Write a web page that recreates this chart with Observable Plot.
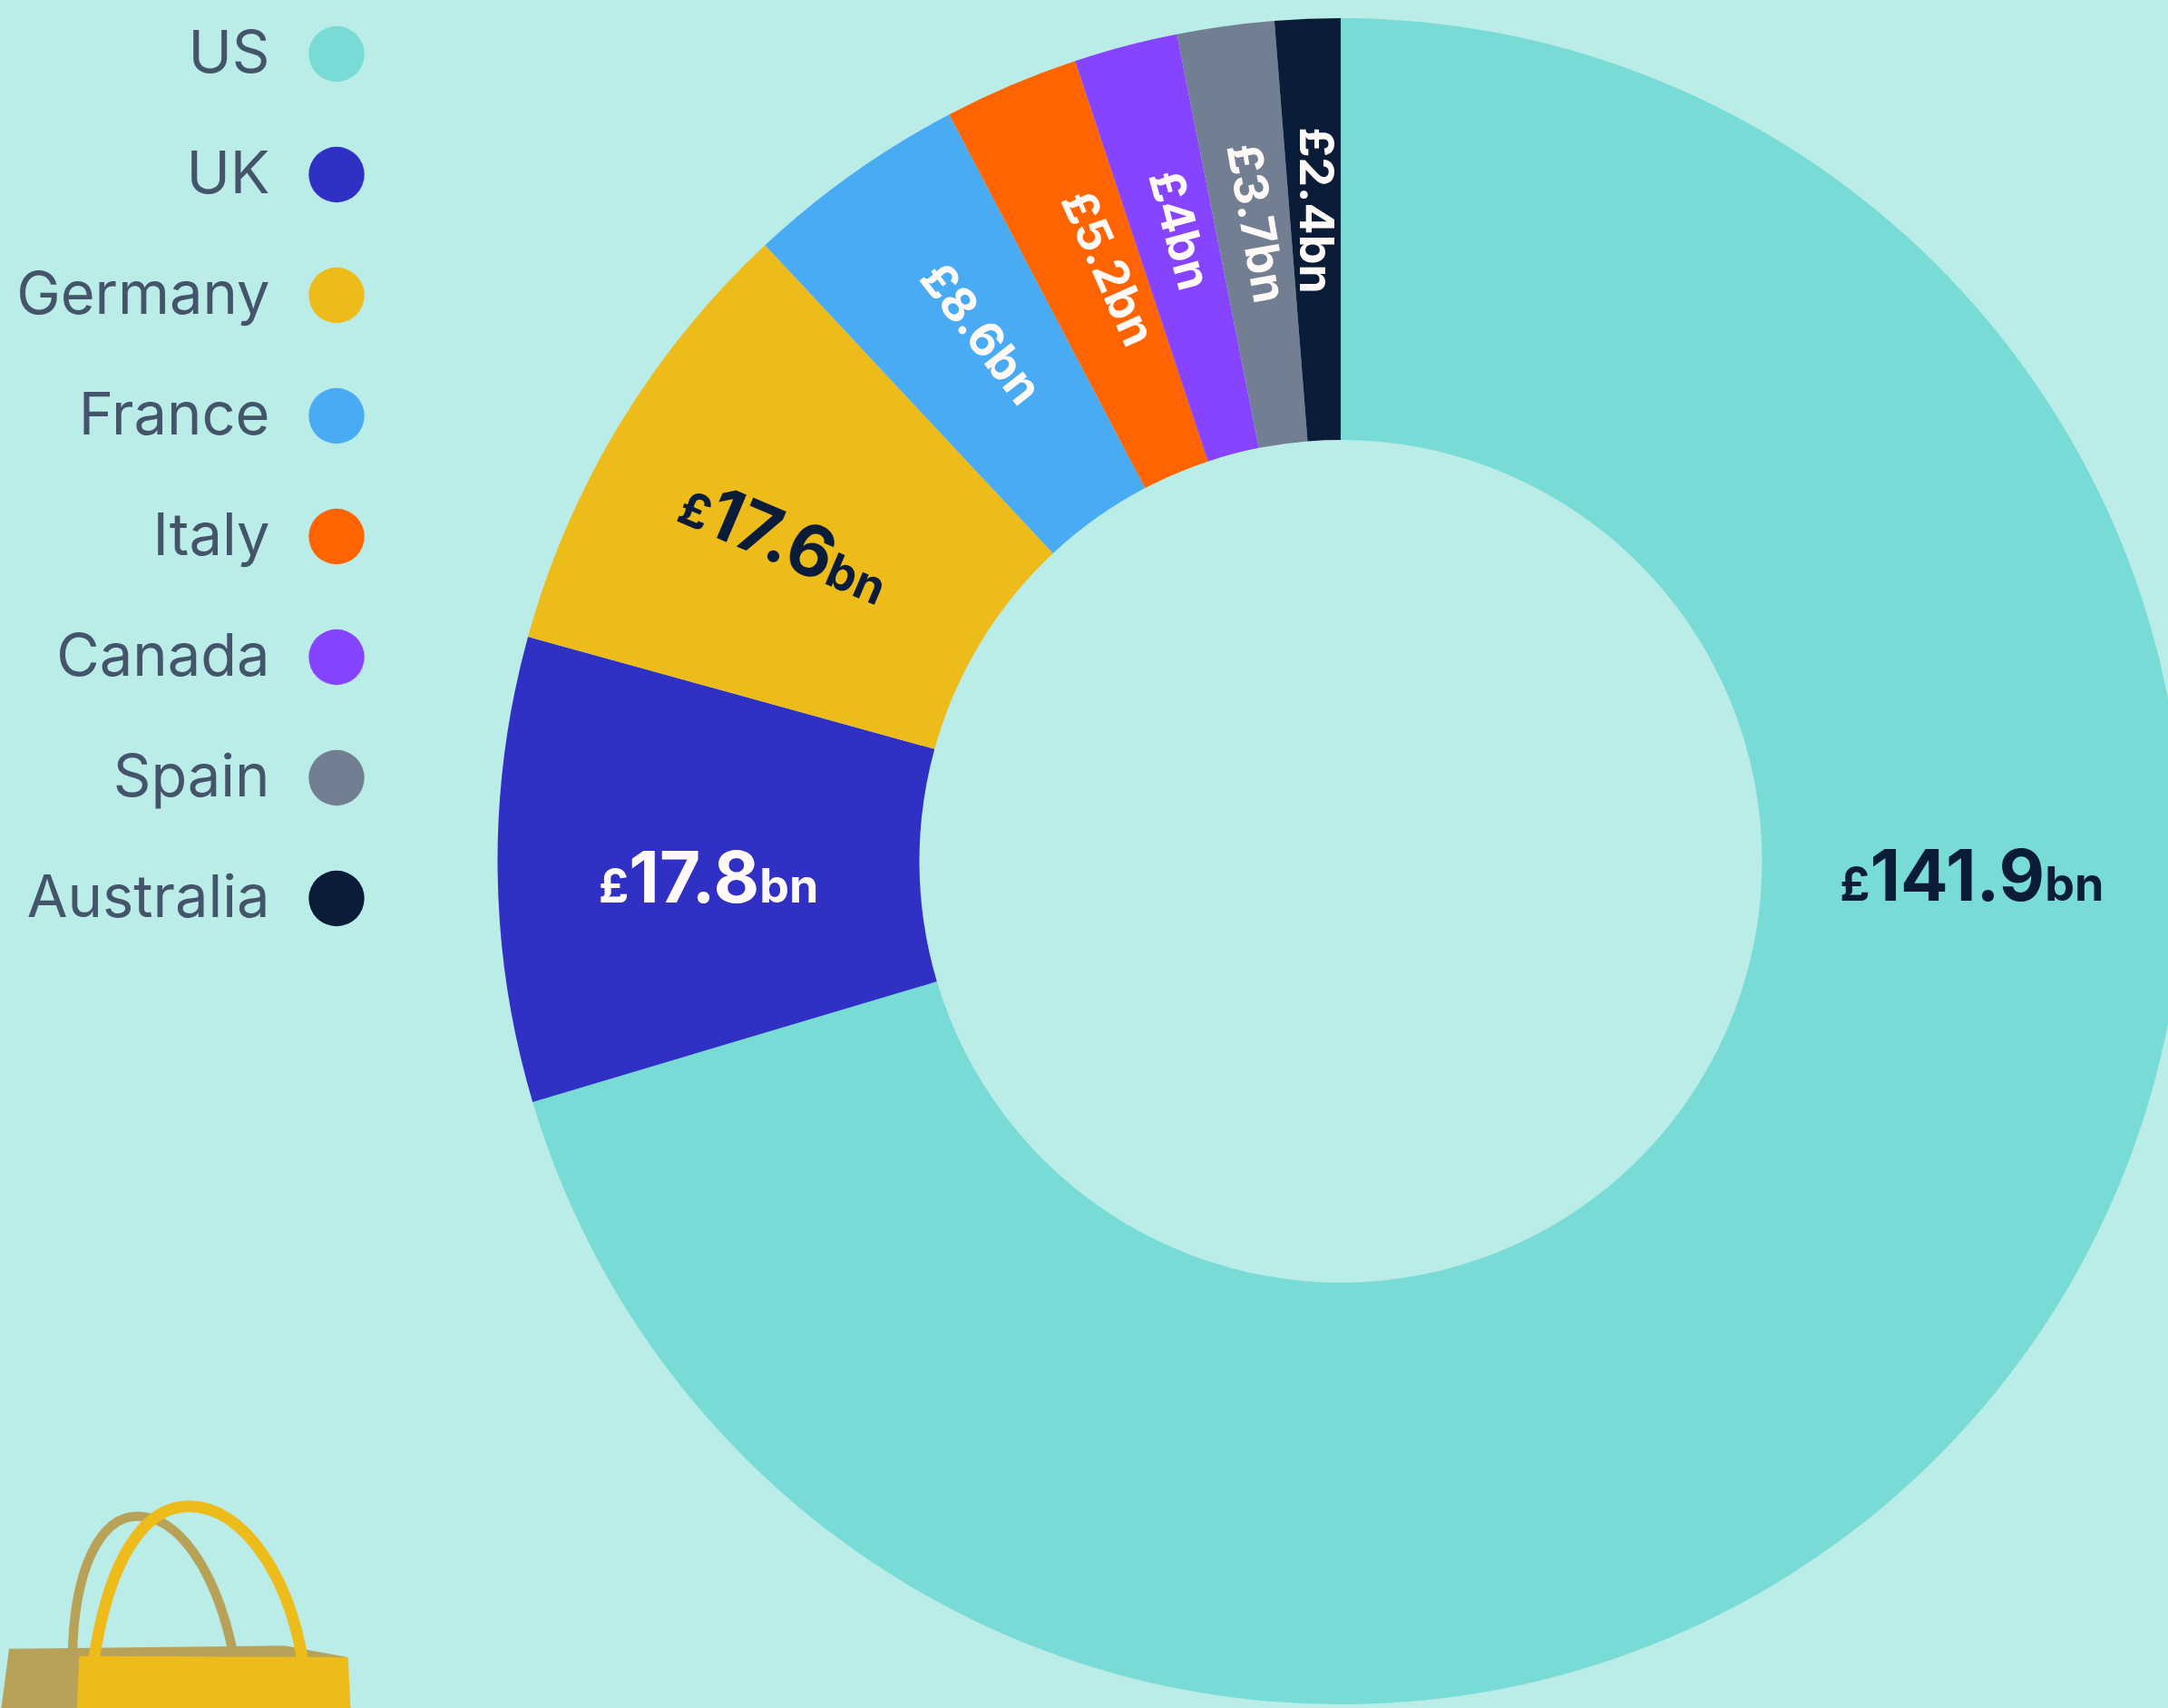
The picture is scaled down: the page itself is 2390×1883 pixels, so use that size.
<!DOCTYPE html>
<html>
<head>
<meta charset="utf-8">
<script src="https://cdn.jsdelivr.net/npm/d3@7"></script>
<script src="https://cdn.jsdelivr.net/npm/@observablehq/plot@0.6"></script>
<style>
  html, body { margin: 0; padding: 0; background: #baece8; overflow: hidden; width: 2390px; height: 1883px; }
  svg { display: block; }
  text { font-optical-sizing: none; }
</style>
</head>
<body>
<div id="chart"></div>
<script>
// Data
const countries = ["US", "UK", "Germany", "France", "Italy", "Canada", "Spain", "Australia"];
const valuesBn = [141.9, 17.8, 17.6, 8.6, 5.2, 4, 3.7, 2.4];        // as printed on the labels
const sliceSizes = [141.6, 17.9, 17.6, 8.6, 5.2, 4.0, 3.74, 2.52];
const colors = ["#78dbd5", "#3030c4", "#edbc1a", "#48abf3", "#ff6400", "#8644ff", "#727e91", "#0b1c39"];

// Label layout
const labelAngles = [91.3, 268.56, 300.1, 325.8, 338.67, 345.76, 352.56, 357.93];
const labelRadii = [696, 697, 707, 704, 702, 718, 709.5, 718];
const labelRotations = [0, 0, 23, 52, 66, 75, 80, 90];
const labelBig = [78, 78, 78, 52, 52, 52, 52, 52];
const labelSmall = [52, 52, 52, 52, 52, 52, 52, 52];
const labelInk = ["#0b1c39", "#fffaf8", "#0b1c39", "#fffaf8", "#fffaf8", "#fffaf8", "#fffaf8", "#fffaf8"];

const W = 2390, H = 1883;
const cx = 1478, cy = 949.5, outerR = 929.5, innerR = 464.5;
const total = d3.sum(sliceSizes);

let run = 0;
const slices = countries.map((country, i) => {
  const start = run;
  run += sliceSizes[i];
  return { country, start, end: run };
});
const labels = countries.map((country, i) => ({
  country,
  value: valuesBn[i],
  at: (labelAngles[i] / 360) * total,
  radius: labelRadii[i],
  rotate: labelRotations[i],
  big: labelBig[i],
  small: labelSmall[i],
  ink: labelInk[i]
}));

const NS = "http://www.w3.org/2000/svg";
const arc = d3.arc();

function renderDonut(index, scales, values) {
  const g = document.createElementNS(NS, "g");
  for (const i of index) {
    const p = document.createElementNS(NS, "path");
    p.setAttribute("d", arc({ innerRadius: innerR, outerRadius: outerR, startAngle: values.x1[i], endAngle: values.x2[i] }));
    p.setAttribute("transform", `translate(${cx},${cy})`);
    p.setAttribute("fill", values.fill[i]);
    g.appendChild(p);
  }
  return g;
}

function renderLabels(index, scales, values) {
  const g = document.createElementNS(NS, "g");
  for (const i of index) {
    const d = labels[i];
    const a = values.x[i];
    const x = cx + d.radius * Math.sin(a);
    const y = cy - d.radius * Math.cos(a);
    const t = document.createElementNS(NS, "text");
    t.setAttribute("transform", `translate(${x},${y}) rotate(${d.rotate})`);
    t.setAttribute("y", 0.36 * d.big);
    t.setAttribute("text-anchor", "middle");
    t.setAttribute("fill", d.ink);
    t.setAttribute("font-family", "Inter");
    t.setAttribute("font-weight", 700);
    for (const [s, size] of [["£", d.small], [String(d.value), d.big], ["bn", d.small]]) {
      const ts = document.createElementNS(NS, "tspan");
      ts.setAttribute("font-size", size);
      ts.textContent = s;
      t.appendChild(ts);
    }
    g.appendChild(t);
  }
  return g;
}

function bagIllustration() {
  const g = document.createElementNS(NS, "g");
  g.setAttribute("transform", `translate(0,${1620}) scale(${1 / 3})`);
  const add = (d, fill, stroke, sw) => {
    const p = document.createElementNS(NS, "path");
    p.setAttribute("d", d);
    p.setAttribute("fill", fill);
    if (stroke) { p.setAttribute("stroke", stroke); p.setAttribute("stroke-width", sw); }
    g.appendChild(p);
  };
  add("M30,593L940,583L1150,621L1150,800L3,800Z", "#b8a258");
  add("M240,600C248,330 330,155 455,155C590,155 710,330 768,592", "none", "#b8a258", 31);
  add("M262,617L1151,621L1160,800L254,800Z", "#edbc1a");
  add("M312,620C360,310 470,122 625,122C800,122 950,340 1000,625", "none", "#edbc1a", 38);
  return g;
}

const plot = Plot.plot({
  width: W,
  height: H,
  margin: 0,
  style: { background: "#baece8", overflow: "hidden" },
  x: { type: "linear", domain: [0, total], range: [0, 2 * Math.PI], axis: null },
  y: { type: "point", domain: countries, range: [57.5, 991], padding: 0, axis: null },
  color: { type: "ordinal", domain: countries, range: colors },
  marks: [
    bagIllustration,
    Plot.rect(slices, { x1: "start", x2: "end", fill: "country", render: renderDonut }),
    Plot.text(labels, { x: "at", text: "country", render: renderLabels }),
    Plot.dot(countries, { y: d => d, fill: d => d, r: 30.7, frameAnchor: "left", dx: 370.5 }),
    Plot.text(countries, {
      y: d => d, text: d => d, frameAnchor: "left", textAnchor: "end", dx: 297,
      fontFamily: "Inter", fontSize: 65, fill: "#44546a"
    })
  ]
});
document.getElementById("chart").appendChild(plot);
</script>
</body>
</html>
